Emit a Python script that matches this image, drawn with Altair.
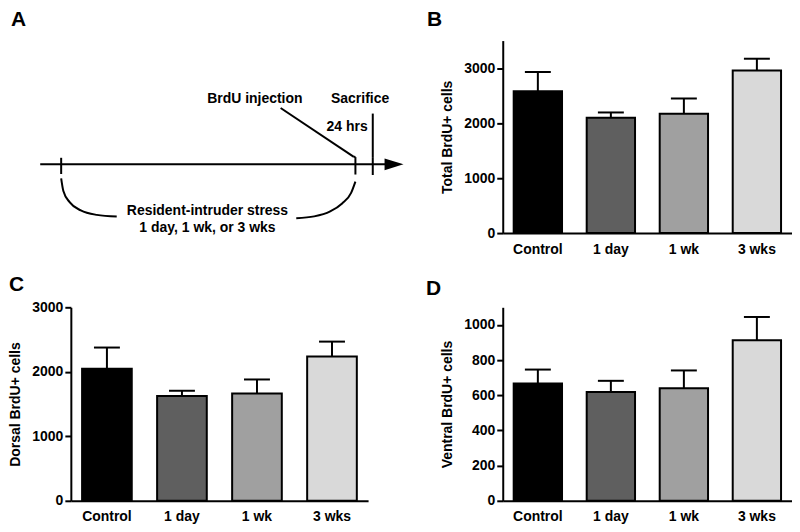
import altair as alt
import pandas as pd

FONT = "Liberation Sans"

# ---------------- data ----------------
groups = ["Control", "1 day", "1 wk", "3 wks"]
bar_colors = ["#000000", "#5f5f5f", "#a0a0a0", "#d9d9d9"]

total_mean = [2578, 2098, 2170, 2958]
total_sem = [351, 95, 277, 212]

dorsal_mean = [2046, 1623, 1665, 2236]
dorsal_sem = [330, 83, 216, 232]

ventral_mean = [667, 618, 640, 912]
ventral_sem = [79, 64, 101, 133]

panel_letters = ["A", "B", "C", "D"]

# ---------------- schematic (panel A), in figure units ----------------
seg_x = [38.3, 59.3, 354.3, 371.7, 371.7, 279.3, 352.7]
seg_y = [164.3, 157.7, 157.0, 157.0, 113.3, 107.7, 156.7]
seg_x2 = [386.0, 59.3, 354.3, 371.7, 371.7, 352.7, 354.3]
seg_y2 = [164.3, 174.0, 174.5, 175.0, 157.0, 156.7, 157.0]

curve_id = ["left"] * 6 + ["right"] * 6
curve_x = [59.3, 61.5, 68.0, 79.0, 95.0, 115.0,
           295.0, 313.0, 329.0, 341.0, 350.0, 354.3]
curve_y = [178.3, 191.0, 202.5, 210.5, 215.0, 216.7,
           218.3, 216.5, 211.5, 203.5, 193.0, 181.7]

arrow_x = [393.0]
arrow_y = [164.3]

label_text = ["BrdU injection", "Sacrifice", "24 hrs",
              "Resident-intruder stress", "1 day, 1 wk, or 3 wks"]
label_x = [253.5, 359.0, 346.0, 206.0, 206.0]
label_y = [102.3, 102.7, 131.0, 215.5, 232.3]

COL1_W, COL2_W = 298, 290
ROW1_H, ROW2_H = 193, 194

xs_a = alt.Scale(domain=[69, 367])
ys_a = alt.Scale(domain=[40, 233.3], reverse=True)

seg_df = pd.DataFrame({"x": seg_x, "y": seg_y, "x2": seg_x2, "y2": seg_y2})
curve_df = pd.DataFrame({"id": curve_id, "x": curve_x, "y": curve_y,
                         "order": list(range(len(curve_x)))})
arrow_df = pd.DataFrame({"x": arrow_x, "y": arrow_y})
label_df = pd.DataFrame({"t": label_text, "x": label_x, "y": label_y})


def letter_layer(letter, dx, dy):
    return alt.Chart(pd.DataFrame({"letter": [letter]})).mark_text(
        font=FONT, fontWeight="bold", fontSize=21, align="left",
        baseline="alphabetic", color="black"
    ).encode(text="letter:N", x=alt.value(dx), y=alt.value(dy))


segs = alt.Chart(seg_df).mark_rule(color="black", strokeWidth=2, clip=False).encode(
    x=alt.X("x:Q", scale=xs_a, axis=None),
    y=alt.Y("y:Q", scale=ys_a, axis=None),
    x2="x2:Q", y2="y2:Q",
)
curves = alt.Chart(curve_df).mark_line(
    color="black", strokeWidth=2, interpolate="monotone", clip=False
).encode(
    x=alt.X("x:Q", scale=xs_a, axis=None),
    y=alt.Y("y:Q", scale=ys_a, axis=None),
    detail="id:N", order="order:Q",
)
arrow = alt.Chart(arrow_df).mark_point(
    shape="M-1,-0.62L1,0L-1,0.62Z", filled=True, color="black",
    opacity=1, size=361, clip=False
).encode(
    x=alt.X("x:Q", scale=xs_a, axis=None),
    y=alt.Y("y:Q", scale=ys_a, axis=None),
)
labels = alt.Chart(label_df).mark_text(
    font=FONT, fontWeight="bold", fontSize=14, align="center",
    baseline="alphabetic", color="black", clip=False
).encode(
    x=alt.X("x:Q", scale=xs_a, axis=None),
    y=alt.Y("y:Q", scale=ys_a, axis=None),
    text="t:N",
)

panel_a = alt.layer(
    segs, curves, arrow, labels, letter_layer(panel_letters[0], -60, -14.3)
).properties(width=COL1_W, height=ROW1_H)


def bar_panel(means, sems, ymax, ticks, ytitle, letter, w, h, ldx, ldy):
    df = pd.DataFrame({
        "group": groups,
        "mean": means,
        "upper": [m + s for m, s in zip(means, sems)],
    })
    xenc = alt.X(
        "group:N", sort=groups, title=None,
        scale=alt.Scale(paddingInner=0.338, paddingOuter=0.15),
        axis=alt.Axis(labelAngle=0, ticks=False, labelPadding=9,
                      labelFontSize=14),
    )
    yscale = alt.Scale(domain=[0, ymax], nice=False)
    yaxis = alt.Axis(values=ticks, format="d", tickSize=6, labelPadding=2,
                     titlePadding=9, title=ytitle, labelFontSize=14,
                     titleFontSize=14, labelOverlap=False)
    base = alt.Chart(df)
    err = base.mark_rule(color="black", strokeWidth=2).encode(
        x=xenc, y=alt.Y("mean:Q", scale=yscale, axis=yaxis), y2="upper:Q")
    cap = base.mark_tick(color="black", thickness=2, size=26, opacity=1).encode(
        x=xenc, y=alt.Y("upper:Q", scale=yscale, axis=yaxis))
    bars = base.mark_bar(stroke="black", strokeWidth=2).encode(
        x=xenc,
        y=alt.Y("mean:Q", scale=yscale, axis=yaxis),
        fill=alt.Fill("group:N", sort=groups,
                      scale=alt.Scale(domain=groups, range=bar_colors),
                      legend=None),
    )
    return alt.layer(err, cap, bars, letter_layer(letter, ldx, ldy)).properties(
        width=w, height=h)


panel_b = bar_panel(total_mean, total_sem, 3500, [0, 1000, 2000, 3000],
                    "Total BrdU+ cells", panel_letters[1], COL2_W, ROW1_H, -76, -14.5)
panel_c = bar_panel(dorsal_mean, dorsal_sem, 3000, [0, 1000, 2000, 3000],
                    "Dorsal BrdU+ cells", panel_letters[2], COL1_W, ROW2_H, -62, -16.7)
panel_d = bar_panel(ventral_mean, ventral_sem, 1100, [0, 200, 400, 600, 800, 1000],
                    "Ventral BrdU+ cells", panel_letters[3], COL2_W, ROW2_H, -77, -12.7)

chart = alt.concat(
    panel_a, panel_b, panel_c, panel_d,
    columns=2,
    spacing=alt.RowColnumber(row=74.4, column=135),
    bounds="flush",
).resolve_scale(x="independent", y="independent", fill="independent").properties(
    padding=0, background="white"
).configure_view(
    stroke=None
).configure_axis(
    domainColor="black", domainWidth=2, tickColor="black", tickWidth=2,
    labelColor="black", titleColor="black", labelFont=FONT, titleFont=FONT,
    labelFontWeight="bold", titleFontWeight="bold", grid=False,
)

chart.save("out.html", embed_options={"renderer": "svg", "actions": False})
